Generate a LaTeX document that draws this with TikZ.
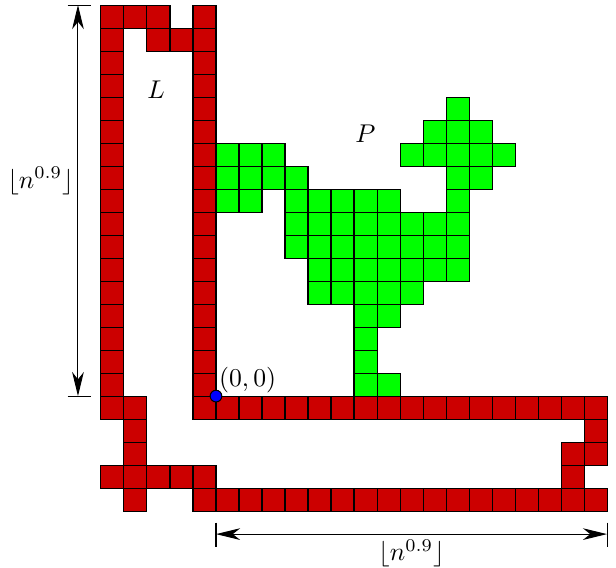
\documentclass[tikz,border=0pt]{standalone}
\usetikzlibrary{arrows.meta}
\begin{document}
\begin{tikzpicture}[
  x=0.315cm, y=0.315cm,
  redcell/.style={draw=black, fill=red!80!black},
  greencell/.style={draw=black, fill=green},
  dimline/.style={{Stealth[length=3.3mm,width=1.6mm,inset=1mm]}-{Stealth[length=3.3mm,width=1.6mm,inset=1mm]}},
  origin/.style={circle, draw=black, fill=blue, inner sep=0pt, minimum size=1.6mm}
]
  \useasboundingbox (-9.39,-7.43) rectangle (17.39,17.22);

  % Region L: the two vertical walls
  \foreach \j in {-1,...,16} {
    \draw[redcell] (-5,\j) rectangle ++(1,1);
    \draw[redcell] (-1,\j) rectangle ++(1,1);
  }
  % top of L
  \foreach \i/\j in {-4/16, -3/16, -3/15, -2/15}
    \draw[redcell] (\i,\j) rectangle ++(1,1);
  % horizontal walls
  \foreach \i in {0,...,16} \draw[redcell] (\i,-1) rectangle ++(1,1);
  \foreach \i in {-1,...,16} \draw[redcell] (\i,-5) rectangle ++(1,1);
  \foreach \i in {-5,...,-1} \draw[redcell] (\i,-4) rectangle ++(1,1);
  % remaining cells at both ends
  \foreach \i/\j in {-4/-1, -4/-2, -4/-3, -4/-5, 16/-2, 15/-3, 16/-3, 15/-4}
    \draw[redcell] (\i,\j) rectangle ++(1,1);

  % Polyomino P, row by row
  \foreach \j/\cols in {12/{10}, 11/{9,10,11}, 10/{0,1,2,8,9,10,11,12},
      9/{0,1,2,3,10,11}, 8/{0,1,3,4,5,6,7,10}, 7/{3,...,10}, 6/{3,...,10},
      5/{4,...,10}, 4/{4,...,8}, 3/{6,7}, 2/{6}, 1/{6}, 0/{6,7}}
    \foreach \i in \cols
      \draw[greencell] (\i,\j) rectangle ++(1,1);

  % Labels
  \node (lblL) at (-2.6,13.3) {$L$};
  \node (lblP) at (6.5,11.4) {$P$};
  \node[origin] (o) at (0,0) {};
  \node[anchor=south west, inner sep=1pt] (olbl) at (o.center) {$(0,0)$};

  % Dimension arrows
  \coordinate (vtop) at (-6,17);
  \coordinate (vbot) at (-6,0);
  \coordinate (hleft) at (0,-6);
  \coordinate (hright) at (17,-6);
  \draw (vtop) ++(-0.45,0) -- ++(1,0);
  \draw (vbot) ++(-0.45,0) -- ++(1,0);
  \draw (hleft) ++(0,0.5) -- ++(0,-1.05);
  \draw (hright) ++(0,0.5) -- ++(0,-1.05);
  \draw[dimline] (vbot) -- node[left, pos=0.55, inner sep=1.5pt] (vlbl) {$\lfloor n^{0.9}\rfloor$} (vtop);
  \draw[dimline] (hleft) -- node[below, inner sep=2pt] (hlbl) {$\lfloor n^{0.9}\rfloor$} (hright);
\end{tikzpicture}
\end{document}
